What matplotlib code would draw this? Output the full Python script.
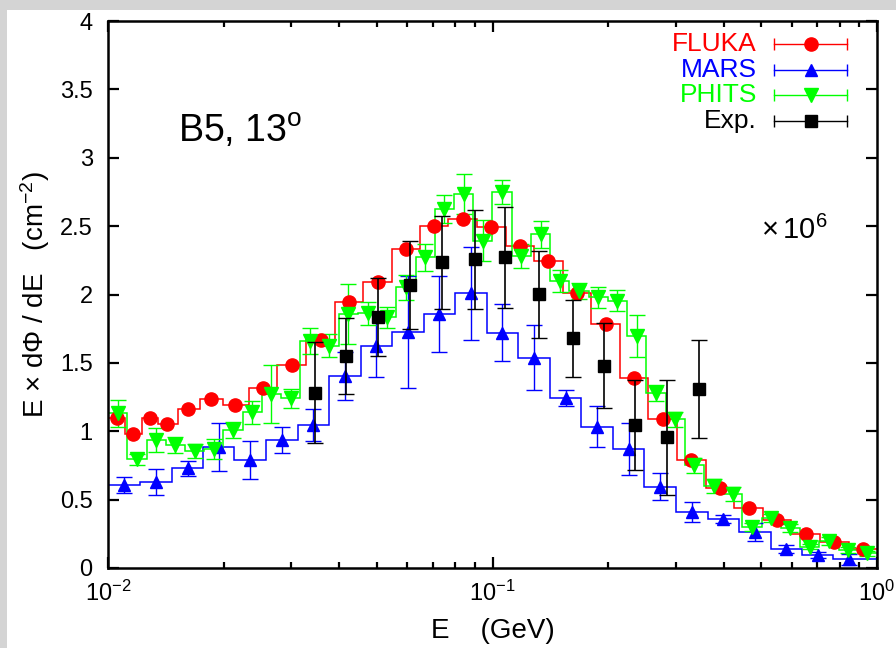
import numpy as np
import matplotlib
matplotlib.use("Agg")
import matplotlib.pyplot as plt
from matplotlib.patches import Rectangle

plt.rcParams['font.family'] = ['Liberation Sans', 'DejaVu Sans']
plt.rcParams['mathtext.fontset'] = 'custom'
plt.rcParams['mathtext.rm'] = 'Liberation Sans'
plt.rcParams['mathtext.default'] = 'regular'

# FLUKA (red circles)
fluka_e = [0.01053, 0.01164, 0.01286, 0.01421, 0.01618, 0.01853, 0.02139, 0.02534,
           0.03004, 0.03574, 0.04234, 0.05029, 0.05957, 0.07056, 0.08365, 0.0994,
           0.1179, 0.1397, 0.1656, 0.197, 0.2333, 0.2771, 0.3283, 0.3906, 0.4637,
           0.5494, 0.6525, 0.7745, 0.918]
fluka_v = [1.095, 0.978, 1.099, 1.05, 1.16, 1.236, 1.194, 1.314, 1.482, 1.665,
           1.943, 2.094, 2.33, 2.503, 2.55, 2.496, 2.355, 2.247, 2.009, 1.784,
           1.387, 1.092, 0.787, 0.587, 0.441, 0.351, 0.249, 0.188, 0.137]

# MARS (blue up triangles)
mars_e = [0.0110, 0.0133, 0.0161, 0.0194, 0.0234, 0.0283, 0.0342, 0.0413, 0.0499,
          0.0602, 0.0727, 0.0878, 0.106, 0.128, 0.155, 0.187, 0.226, 0.273, 0.330,
          0.398, 0.481, 0.581, 0.701, 0.847]
mars_v = [0.607, 0.627, 0.729, 0.887, 0.79, 0.936, 1.046, 1.404, 1.626, 1.728,
          1.857, 2.009, 1.721, 1.538, 1.241, 1.033, 0.868, 0.595, 0.41, 0.358,
          0.261, 0.139, 0.095, 0.064]
mars_err = [0.06, 0.095, 0.057, 0.175, 0.139, 0.095, 0.117, 0.175, 0.23, 0.41,
            0.28, 0.34, 0.21, 0.24, 0.06, 0.15, 0.19, 0.10, 0.07, 0.03,
            0.067, 0.03, 0.02, 0.04]

# PHITS (green down triangles)
phits_e = [0.01059, 0.01189, 0.01334, 0.01496, 0.01679, 0.01884, 0.02113, 0.02371,
           0.02661, 0.02985, 0.03350, 0.03758, 0.04217, 0.04732, 0.05309, 0.05957,
           0.06683, 0.07499, 0.08414, 0.09441, 0.1059, 0.1189, 0.1334, 0.1496,
           0.1679, 0.1884, 0.2113, 0.2371, 0.2661, 0.2985, 0.3350, 0.3758, 0.4217,
           0.4732, 0.5309, 0.5957, 0.6683, 0.7499, 0.8414, 0.9441]
phits_v = [1.131, 0.795, 0.936, 0.899, 0.858, 0.870, 1.009, 1.139, 1.272, 1.241,
           1.66, 1.626, 1.855, 1.862, 1.833, 2.053, 2.272, 2.625, 2.735, 2.393,
           2.749, 2.281, 2.44, 2.099, 2.026, 1.98, 1.955, 1.697, 1.278, 1.087,
           0.753, 0.602, 0.539, 0.302, 0.363, 0.295, 0.156, 0.2, 0.132, 0.107]
phits_err = [0.1, 0.04, 0.085, 0.058, 0.05, 0.07, 0.056, 0.083, 0.21, 0.07,
             0.095, 0.085, 0.22, 0.083, 0.077, 0.09, 0.097, 0.1, 0.144, 0.15,
             0.088, 0.085, 0.1, 0.08, 0.06, 0.077, 0.077, 0.154, 0.06, 0.057,
             0.055, 0.05, 0.05, 0.03, 0.03, 0.03, 0.02, 0.03, 0.02, 0.02]

# Experiment (black squares)
exp_e = [0.0345, 0.0415, 0.0503, 0.0610, 0.0740, 0.0899, 0.1079, 0.1323, 0.1615,
         0.1953, 0.2349, 0.2835, 0.3434]
exp_v = [1.282, 1.55, 1.835, 2.07, 2.235, 2.257, 2.272, 2.001, 1.68, 1.48,
         1.046, 0.956, 1.307]
exp_err = [0.37, 0.28, 0.285, 0.32, 0.34, 0.36, 0.37, 0.32, 0.28, 0.31, 0.33,
           0.42, 0.36]

y_ticks = [0, 0.5, 1, 1.5, 2, 2.5, 3, 3.5, 4]
y_labels = ['0', '0.5', '1', '1.5', '2', '2.5', '3', '3.5', '4']


def log_edges(centers, lo, hi):
    c = np.log10(centers)
    mids = (c[1:] + c[:-1]) / 2
    return np.concatenate([[np.log10(lo)], mids, [np.log10(hi)]])


fig = plt.figure(figsize=(8.96, 6.48), dpi=100)
fig.patch.set_facecolor('#d4d4d4')
fig.patches.append(Rectangle((7 / 896, 0), 1, 1 - 10 / 648, transform=fig.transFigure,
                             facecolor='white', edgecolor='none', zorder=-5))
ax = fig.add_axes([108 / 896, 1 - 568 / 648, 769 / 896, 547 / 648])
ax.set_zorder(2)

series = [
    ('FLUKA', fluka_e, fluka_v, None, 'red', 'o', 9.5),
    ('MARS', mars_e, mars_v, mars_err, 'blue', '^', 9),
    ('PHITS', phits_e, phits_v, phits_err, '#00ff00', 'v', 9.5),
]
for name, e, v, err, col, mk, ms in series:
    edges = 10 ** log_edges(e, 0.01, 1.0)
    ax.stairs(v, edges, baseline=None, color=col, lw=1.1, zorder=2)
    if err is not None:
        ax.errorbar(e, v, yerr=err, fmt='none', ecolor=col, elinewidth=1.0,
                    capsize=6, capthick=1.0, zorder=3)
    ax.plot(e, v, ls='none', marker=mk, color=col, ms=ms, zorder=4)

ax.errorbar(exp_e, exp_v, yerr=exp_err, fmt='s', color='black', ms=8.5,
            elinewidth=1.2, capsize=6, capthick=1.0, zorder=5)

ax.set_xscale('log')
ax.set_xlim(0.01, 1.0)
ax.set_ylim(0, 4)
ax.set_yticks(y_ticks)
ax.set_yticklabels(y_labels)
ax.set_xticks([0.01, 0.1, 1.0])
ax.set_xticklabels([r'$10^{-2}$', r'$10^{-1}$', r'$10^{0}$'])
ax.tick_params(which='both', direction='in', top=True, right=True, labelsize=17, width=1.6)
ax.tick_params(axis='y', which='major', length=8, pad=11)
ax.tick_params(axis='x', which='major', length=8, pad=9, labelsize=17)
ax.tick_params(axis='x', which='minor', length=4.5, width=1.6)
ax.tick_params(axis='y', which='minor', left=False, right=False)
for s in ax.spines.values():
    s.set_linewidth(1.8)

ax.set_xlabel('E    (GeV)', fontsize=20, labelpad=9)
ax.set_ylabel(r'E $\times$ d$\Phi$ / dE   (cm$^{-2}$)', fontsize=20, labelpad=6)

ax.text(0.091, 0.80, r'B5, 13$^{\mathrm{o}}$', transform=ax.transAxes, fontsize=27,
        va='center', ha='left')
ax.text(0.936, 0.618, r'$\times\,10^{6}$', transform=ax.transAxes, fontsize=21,
        va='center', ha='right')

# legend drawn by hand, gnuplot style
leg_rows = [('FLUKA', 'red', 'o', 9.5), ('MARS', 'blue', '^', 9),
            ('PHITS', '#00ff00', 'v', 9.5), ('Exp.', 'black', 's', 8.5)]
for i, (name, col, mk, ms) in enumerate(leg_rows):
    yy = 0.958 - i * 0.047
    ax.text(0.844, yy, name, color=col, fontsize=19, transform=ax.transAxes,
            ha='right', va='center')
    ax.plot([0.866, 0.961], [yy, yy], color=col, lw=1.0, transform=ax.transAxes)
    ax.plot([0.866, 0.961], [yy, yy], ls='none', marker='|', ms=9, mew=1.0,
            color=col, transform=ax.transAxes)
    ax.plot([0.914], [yy], ls='none', marker=mk, ms=ms, color=col, transform=ax.transAxes)

fig.savefig('out.png', dpi=100, facecolor=fig.get_facecolor())
